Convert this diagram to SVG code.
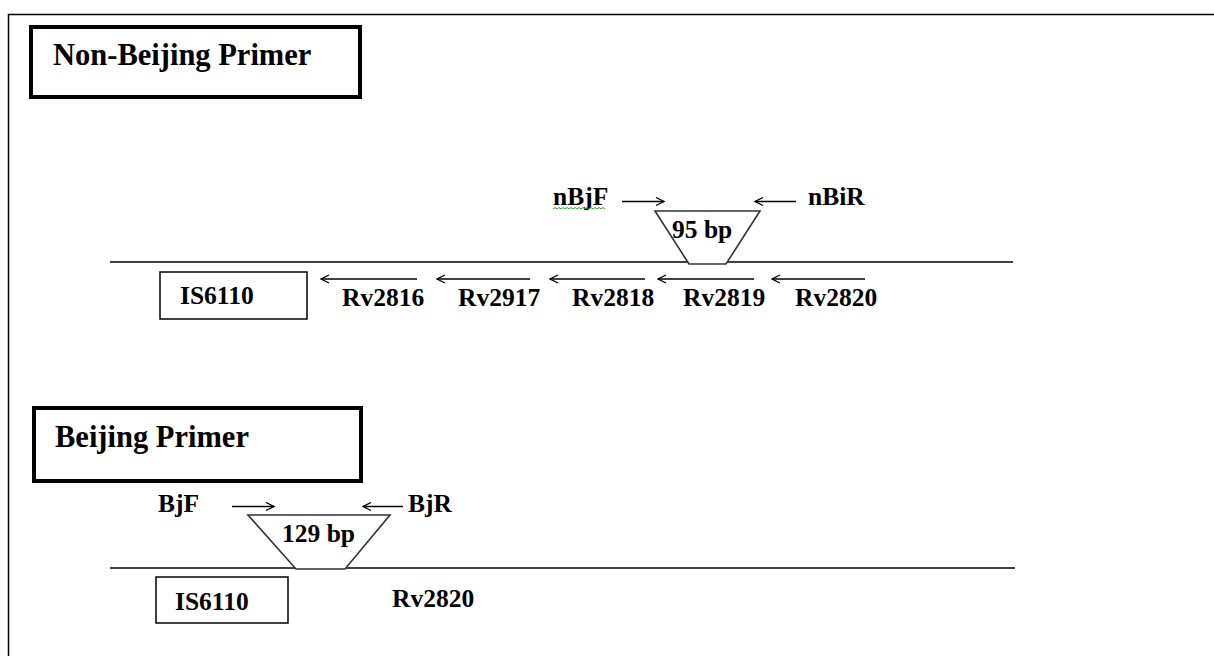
<svg xmlns="http://www.w3.org/2000/svg" width="1214" height="656" viewBox="0 0 1214 656">
<style>
.t{font-family:"Liberation Serif","Times New Roman",serif;font-weight:bold;fill:#000}
.h{font-size:30.5px}
.l{font-size:25.5px}
.ln{stroke:#000;stroke-width:1.5;fill:none}
.ar{stroke:#000;stroke-width:1.3;fill:none}
.box{fill:#fff;stroke:#000;stroke-width:1.5}
.hbox{fill:#fff;stroke:#000;stroke-width:4}
.trap{fill:#fff;stroke:#333;stroke-width:1.6}
</style>
<defs>
<marker id="ah" viewBox="0 0 10 10" refX="9" refY="5" markerWidth="10" markerHeight="10" markerUnits="userSpaceOnUse" orient="auto">
<path d="M1,1 L9,5 L1,9" fill="none" stroke="#000" stroke-width="1.3"/>
</marker>
</defs>
<rect width="1214" height="656" fill="#fff"/>
<path d="M8.5,656 V14.5 H1214" fill="none" stroke="#000" stroke-width="1.5"/>

<g id="title-nonbeijing">
<rect class="hbox" x="31" y="27" width="329" height="70"/>
<text class="t h" x="53" y="65">Non-Beijing Primer</text>
</g>
<g id="title-beijing">
<rect class="hbox" x="34" y="408" width="327" height="73"/>
<text class="t h" x="55" y="447">Beijing Primer</text>
</g>

<g id="dna-lines">
<line class="ln" x1="110" y1="262" x2="1013" y2="262"/>
<line class="ln" x1="110" y1="568" x2="1015" y2="568"/>
</g>

<g id="amplicon-95">
<polygon class="trap" points="655,211 760,211 726,264 689,264"/>
<text class="t l" x="672" y="238">95 bp</text>
</g>
<g id="amplicon-129">
<polygon class="trap" points="248,515 390,515 345,569 296,569" stroke="#555" />
<text class="t l" x="282" y="542">129 bp</text>
</g>

<g id="primer-nBjF">
<text class="t l" x="553" y="205">nBjF</text>
<path d="M553,209 l2,-1.5 2,1.5 2,-1.5 2,1.5 2,-1.5 2,1.5 2,-1.5 2,1.5 2,-1.5 2,1.5 2,-1.5 2,1.5 2,-1.5 2,1.5 2,-1.5 2,1.5 2,-1.5 2,1.5 2,-1.5 2,1.5 2,-1.5 2,1.5 2,-1.5 2,1.5 2,-1.5 2,1.5" fill="none" stroke="#3a9a3a" stroke-width="1"/>
</g>
<g id="primer-nBiR">
<text class="t l" x="808" y="205">nBiR</text>
</g>
<g id="primer-BjF">
<text class="t l" x="158" y="512">BjF</text>
</g>
<g id="primer-BjR">
<text class="t l" x="408" y="512">BjR</text>
</g>

<g id="is6110-top">
<rect class="box" x="160" y="272" width="147" height="47"/>
<text class="t l" x="180" y="304">IS6110</text>
</g>
<g id="is6110-bottom">
<rect class="box" x="156" y="577" width="132" height="46"/>
<text class="t l" x="175" y="610">IS6110</text>
</g>

<g id="genes">
<text class="t l" x="342" y="306">Rv2816</text>
<text class="t l" x="458" y="306">Rv2917</text>
<text class="t l" x="572" y="306">Rv2818</text>
<text class="t l" x="683" y="306">Rv2819</text>
<text class="t l" x="795" y="306">Rv2820</text>
<text class="t l" x="392" y="607">Rv2820</text>
</g>

<g id="connectors">
<line class="ar" x1="622" y1="201.5" x2="664" y2="201.5" marker-end="url(#ah)"/>
<line class="ar" x1="796" y1="201.5" x2="755" y2="201.5" marker-end="url(#ah)"/>
<line class="ar" x1="417" y1="279" x2="321" y2="279" marker-end="url(#ah)"/>
<line class="ar" x1="530" y1="279" x2="437" y2="279" marker-end="url(#ah)"/>
<line class="ar" x1="645" y1="279" x2="550" y2="279" marker-end="url(#ah)"/>
<line class="ar" x1="754" y1="279" x2="658" y2="279" marker-end="url(#ah)"/>
<line class="ar" x1="865" y1="279" x2="772" y2="279" marker-end="url(#ah)"/>
<line class="ar" x1="232" y1="506.5" x2="274" y2="506.5" marker-end="url(#ah)"/>
<line class="ar" x1="403" y1="506.5" x2="363" y2="506.5" marker-end="url(#ah)"/>
</g>
</svg>
